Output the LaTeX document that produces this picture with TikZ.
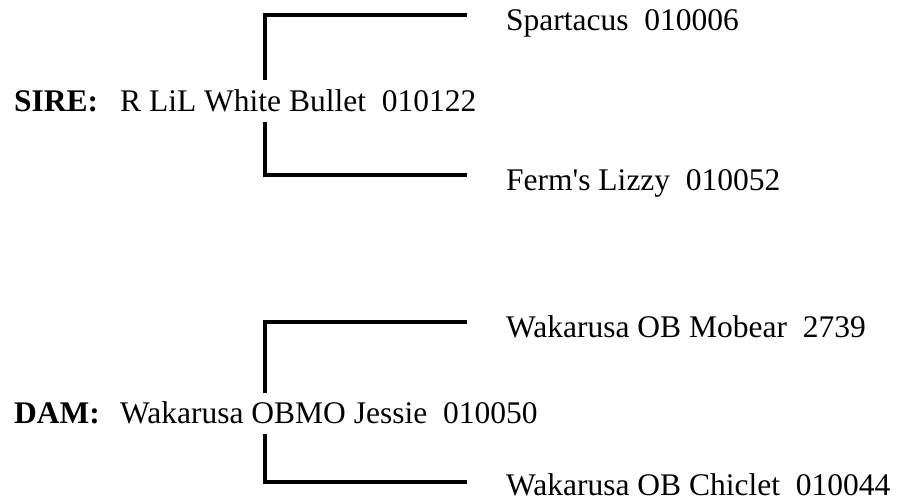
\documentclass[tikz,border=0pt]{standalone}
\usepackage{fontspec}
\setmainfont{Liberation Serif}[Ligatures=TeXOff]
\begin{document}
\begin{tikzpicture}[x=1pt,y=-1pt,
  every node/.style={inner sep=0pt, anchor=base west, font=\fontsize{31.5}{36}\selectfont},
  lab/.style={font=\fontsize{31.5}{36}\selectfont\bfseries},
  mid/.style={text height=27pt, text depth=7pt, inner ysep=3.5pt, anchor=base west},
  br/.style={line width=3.5pt, line join=miter, line cap=butt}]
\useasboundingbox (0,0) rectangle (898,503);
% SIRE
\node[lab] (sirelab) at (14,111) {SIRE:};
\node[mid] (sire) at (120,111) {R LiL White Bullet~~010122};
\node (s1) at (506,31) {Spartacus~~010006};
\node (s2) at (506,190) {Ferm's Lizzy~~010052};
\coordinate (sc1) at (265,15);
\coordinate (sc2) at (265,175);
\coordinate (se1) at (467,15);
\coordinate (se2) at (467,175);
\draw[br] (sire.north -| sc1) -- (sc1) -- (se1);
\draw[br] (sire.south -| sc2) -- (sc2) -- (se2);
% DAM
\node[lab] (damlab) at (14,423.5) {DAM:};
\node[mid] (dam) at (120,423.5) {Wakarusa OBMO Jessie~~010050};
\node (d1) at (506,337) {Wakarusa OB Mobear~~2739};
\node (d2) at (506,495) {Wakarusa OB Chiclet~~010044};
\coordinate (dc1) at (265,322);
\coordinate (dc2) at (265,482);
\coordinate (de1) at (467,322);
\coordinate (de2) at (467,482);
\draw[br] (dam.north -| dc1) -- (dc1) -- (de1);
\draw[br] (dam.south -| dc2) -- (dc2) -- (de2);
\end{tikzpicture}
\end{document}
